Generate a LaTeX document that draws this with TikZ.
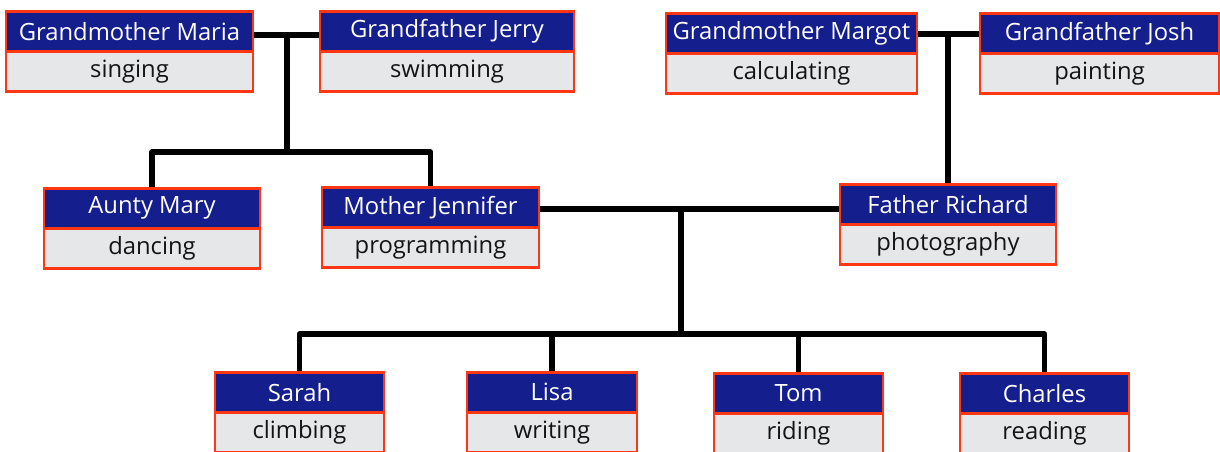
\documentclass[tikz,border=0pt]{standalone}
\usepackage{fontspec}
\setmainfont{Open Sans}
\definecolor{hdblue}{RGB}{20,30,140}
\definecolor{bdgray}{RGB}{230,231,232}
\definecolor{edred}{RGB}{255,55,20}
\definecolor{txtdark}{RGB}{20,20,20}
\tikzset{
  hdbox/.style={draw=edred, line width=2.5pt, fill=hdblue, text=white, minimum height=40pt, inner sep=0pt, font=\fontsize{23.8}{26}\selectfont, anchor=north},
  bdbox/.style={draw=edred, line width=2.5pt, fill=bdgray, text=txtdark, minimum height=40pt, inner sep=0pt, font=\fontsize{23.8}{26}\selectfont, anchor=north},
  link/.style={line width=5.5pt, black, line join=round}
}
\newcommand\famperson[6]{%
  \node[bdbox, minimum width=#4pt] (#1-b) at (#2,#3+40) {#6};
  \node[hdbox, minimum width=#4pt] (#1) at (#2,#3) {#5};
}
\begin{document}
\begin{tikzpicture}[x=1pt,y=-1pt]
\useasboundingbox (0,0) rectangle (1220,451);
\fill[white] (0,0) rectangle (1220,451);
\coordinate (gl) at (287,35);
\coordinate (gld) at (287,152);
\coordinate (gr) at (948,34);
\coordinate (pj) at (681,209);
\coordinate (pjd) at (681,334);
\famperson{maria}{129.5}{10}{247}{Grandmother Maria}{singing}
\famperson{jerry}{447}{10}{254}{Grandfather Jerry}{swimming}
\famperson{margot}{791.5}{12}{251}{Grandmother Margot}{calculating}
\famperson{josh}{1099.5}{12}{239}{Grandfather Josh}{painting}
\famperson{aunty}{152}{187}{216}{Aunty Mary}{dancing}
\famperson{jennifer}{430.5}{186}{217}{Mother Jennifer}{programming}
\famperson{richard}{948}{183}{216}{Father Richard}{photography}
\famperson{sarah}{299.5}{371}{169}{Sarah}{climbing}
\famperson{lisa}{552}{371}{170}{Lisa}{writing}
\famperson{tom}{798.5}{372}{169}{Tom}{riding}
\famperson{charles}{1044.5}{372}{169}{Charles}{reading}
\draw[link] (gl -| maria.east) -- (gl -| jerry.west);
\draw[link] (gl) -- (gld);
\draw[link] (aunty.north) |- (gld) -| (jennifer.north);
\draw[link] (gr -| margot.east) -- (gr -| josh.west);
\draw[link] (gr) -- (richard.north);
\draw[link] (pj -| jennifer.east) -- (pj -| richard.west);
\draw[link] (pj) -- (pjd);
\draw[link] (sarah.north) |- (pjd) -| (charles.north);
\draw[link] (pjd -| lisa.north) -- (lisa.north);
\draw[link] (pjd -| tom.north) -- (tom.north);
\end{tikzpicture}
\end{document}
